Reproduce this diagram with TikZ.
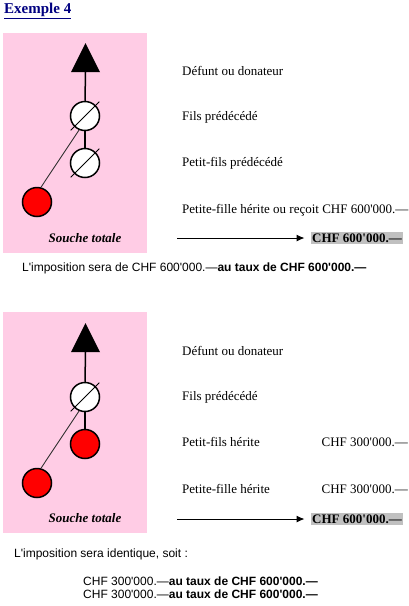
\documentclass[tikz,border=0pt]{standalone}
\usepackage{fontspec}
\usetikzlibrary{arrows.meta}
\newfontfamily\timesfont{Liberation Serif}
\newfontfamily\arialfont{Liberation Sans}
\definecolor{fondrose}{RGB}{255,204,229}
\definecolor{titrebleu}{RGB}{0,0,128}
\definecolor{grismontant}{RGB}{192,192,192}

\begin{document}
\begin{tikzpicture}[
  x=1pt, y=-1pt,
  every node/.style={inner sep=0pt},
  titre/.style={font=\timesfont\bfseries\fontsize{15}{17}\selectfont, text=titrebleu, anchor=west},
  texte/.style={font=\timesfont\fontsize{13}{15}\selectfont, anchor=west},
  phrase/.style={font=\arialfont\fontsize{12}{14}\selectfont, anchor=west},
  souche/.style={font=\timesfont\bfseries\itshape\fontsize{13}{15}\selectfont},
  montant/.style={font=\timesfont\bfseries\fontsize{13}{15}\selectfont, fill=grismontant, inner xsep=1.5pt, inner ysep=2pt},
  defunt/.style={fill=black},
  personne/.style={circle, draw=black, line width=1.5pt, minimum size=29pt},
  decede/.style={personne, fill=white},
  heritier/.style={personne, fill=red},
  trait/.style={line width=1.5pt},
  lien/.style={line width=0.9pt, black!80},
  barre/.style={line width=0.8pt, shorten <=-5pt, shorten >=-5pt},
  fleche/.style={-{Latex[length=8pt, width=7pt]}, line width=1pt, shorten >=6pt}
]
\useasboundingbox (0,0) rectangle (408,606);

\node[titre] (titre) at (4,11) {\underline{Exemple 4}};

% Premier cas : petit-fils prédécédé
\fill[fondrose] (3,33) rectangle (147,253);
\coordinate (d1) at (85.5,43);
\coordinate (b1) at (85.5,72);
\fill[defunt] (d1) -- (71,72) -- (100,72) -- cycle;
\node[decede] (f1) at (85,116) {};
\node[decede] (p1) at (85,163) {};
\node[heritier] (s1) at (37,202) {};
\node[souche] (souche1) at (85,238) {Souche totale};
\draw[trait] (b1) -- (f1.north);
\draw[trait] (f1.south) -- (p1.north);
\draw[lien] (f1.247) -- (s1.75);
\draw[barre] (f1.225) -- (f1.45);
\draw[barre] (p1.225) -- (p1.45);

\node[texte] (l11) at (182,71) {Défunt ou donateur};
\node[texte] (l12) at (182,117) {Fils prédécédé};
\node[texte] (l13) at (182,163) {Petit-fils prédécédé};
\node[texte] (l14) at (182,210) {Petite-fille hérite ou reçoit CHF 600'000.—};
\coordinate (a1) at (177,238);
\node[montant] (m1) at (357,238) {CHF 600'000.—};
\draw[fleche] (a1) -- (m1);
\node[phrase] (i1) at (22,268) {L'imposition sera de CHF 600'000.—\textbf{au taux de CHF 600'000.—}};

% Deuxième cas : deux héritiers
\fill[fondrose] (3,312) rectangle (147,533);
\coordinate (d2) at (85.5,323);
\coordinate (b2) at (85.5,352);
\fill[defunt] (d2) -- (71,352) -- (100,352) -- cycle;
\node[decede] (f2) at (85,397) {};
\node[heritier] (p2) at (85,444) {};
\node[heritier] (s2) at (37,483) {};
\node[souche] (souche2) at (85,518) {Souche totale};
\draw[trait] (b2) -- (f2.north);
\draw[trait] (f2.south) -- (p2.north);
\draw[lien] (f2.247) -- (s2.75);
\draw[barre] (f2.225) -- (f2.45);

\node[texte] (l21) at (182,351) {Défunt ou donateur};
\node[texte] (l22) at (182,397) {Fils prédécédé};
\node[texte] (l23) at (182,442) {Petit-fils hérite};
\node[texte, anchor=east] (c23) at (408,442) {CHF 300'000.—};
\node[texte] (l24) at (182,489) {Petite-fille hérite};
\node[texte, anchor=east] (c24) at (408,489) {CHF 300'000.—};
\coordinate (a2) at (177,519);
\node[montant] (m2) at (357,519) {CHF 600'000.—};
\draw[fleche] (a2) -- (m2);
\node[phrase] (i2) at (14,554) {L'imposition sera identique, soit :};
\node[phrase] (t1) at (83,581) {CHF 300'000.—\textbf{au taux de CHF 600'000.—}};
\node[phrase] (t2) at (83,594) {CHF 300'000.—\textbf{au taux de CHF 600'000.—}};

\end{tikzpicture}
\end{document}
